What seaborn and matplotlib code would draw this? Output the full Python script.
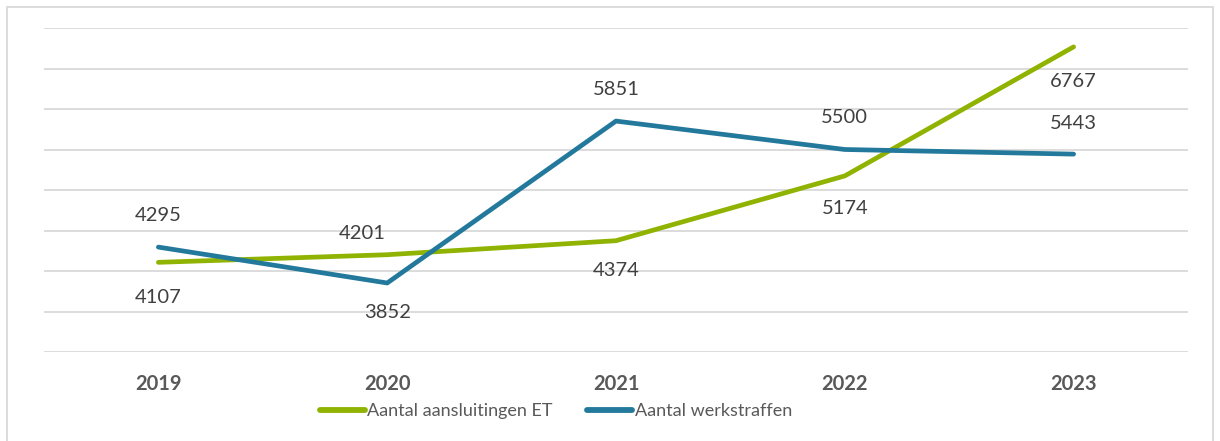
import matplotlib
matplotlib.use("Agg")
import matplotlib.pyplot as plt
import seaborn as sns
import pandas as pd
from matplotlib.patches import Rectangle
from matplotlib.lines import Line2D

years = ["2019", "2020", "2021", "2022", "2023"]
aansluitingen = [4107, 4201, 4374, 5174, 6767]
werkstraffen = [4295, 3852, 5851, 5500, 5443]
series_names = ["Aantal aansluitingen ET", "Aantal werkstraffen"]

colors = {"Aantal aansluitingen ET": "#8FB300", "Aantal werkstraffen": "#23799C"}

# label offsets in pixels (dx, dy)
off_green = [(0, -35), (-25, 21), (0, -30), (0, -33), (0, -35)]
off_blue = [(0, 32), (0, -30), (0, 32), (0, 32), (0, 31)]

df = pd.DataFrame({
    "year": years * 2,
    "value": aansluitingen + werkstraffen,
    "series": [series_names[0]] * 5 + [series_names[1]] * 5,
})

sns.set_style("white")
plt.rcParams["font.family"] = ["Lato", "DejaVu Sans"]

fig = plt.figure(figsize=(12.2, 4.41), dpi=100)
ax = fig.add_axes([44 / 1220, 1 - 352 / 441, (1188 - 44) / 1220, (352 - 28) / 441])

sns.lineplot(data=df, x="year", y="value", hue="series", palette=colors,
             linewidth=3.4, ax=ax, legend=False, sort=False,
             solid_capstyle="round")

ax.set_xlim(-0.5, 4.5)
ax.set_ylim(3000, 7000)
ax.set_yticks(range(3000, 7001, 500))
ax.yaxis.grid(True, color="#D9D9D9", linewidth=1.3)
ax.set_axisbelow(True)
for s in ax.spines.values():
    s.set_visible(False)
ax.tick_params(axis="y", left=False, labelleft=False)
ax.tick_params(axis="x", bottom=False, pad=12, labelsize=14.5, labelcolor="#595959")
for t in ax.get_xticklabels():
    t.set_fontweight("bold")
ax.set_xlabel("")
ax.set_ylabel("")

for i, (v, o) in enumerate(zip(aansluitingen, off_green)):
    ax.annotate(str(v), (i, v), xytext=o, textcoords="offset pixels",
                ha="center", va="center", fontsize=14.5, color="#404040")
for i, (v, o) in enumerate(zip(werkstraffen, off_blue)):
    ax.annotate(str(v), (i, v), xytext=o, textcoords="offset pixels",
                ha="center", va="center", fontsize=14.5, color="#404040")

handles = [Line2D([0], [0], color=colors[n], linewidth=4.2, solid_capstyle="round") for n in series_names]
fig.legend(handles, series_names, loc="center", bbox_to_anchor=(556 / 1220, 1 - 411 / 441),
           ncol=2, frameon=False, fontsize=13, labelcolor="#595959",
           handlelength=2.5, handletextpad=0.15, columnspacing=1.9)

fig.patches.append(Rectangle((7 / 1220, -0.05), (1213 - 7) / 1220, 1.05 - 7 / 441,
                             transform=fig.transFigure, fill=False,
                             edgecolor="#D9D9D9", linewidth=1.3))

fig.savefig("out.png", dpi=100)
